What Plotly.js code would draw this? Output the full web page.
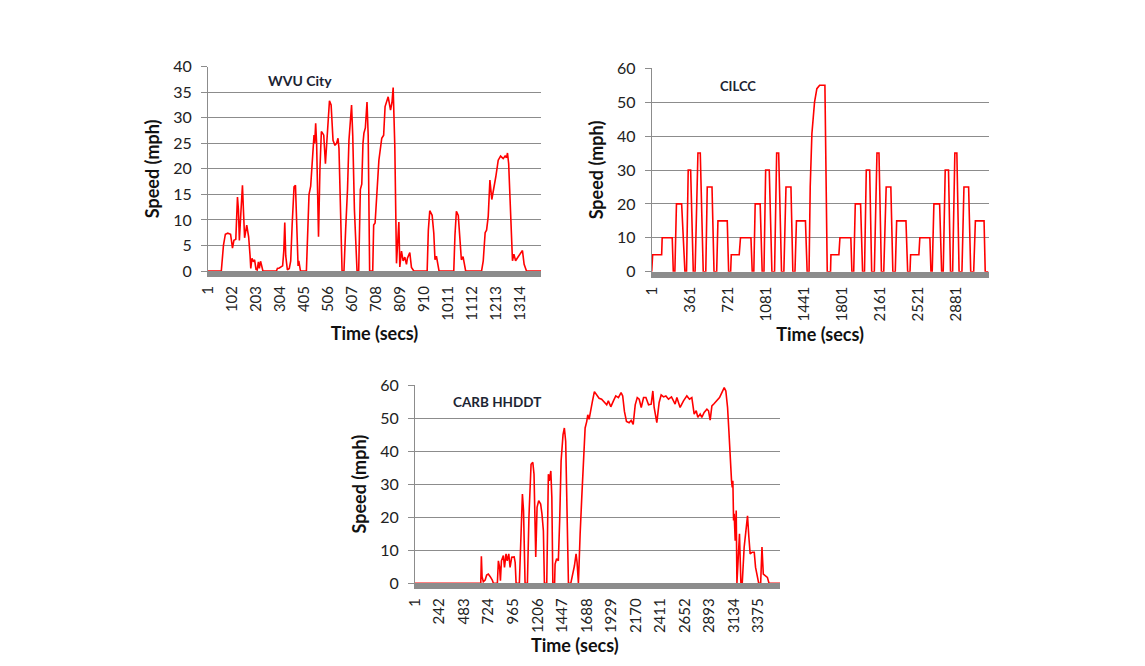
<!DOCTYPE html>
<html>
<head>
<meta charset="utf-8">
<script src="https://cdn.plot.ly/plotly-3.0.1.min.js"></script>
<style>html,body{margin:0;padding:0;background:#fff;}#chart{width:1145px;height:666px;}</style>
</head>
<body>
<div id="chart"></div>
<script>
// ---------- WVU City ----------
const wvuTime = [1,57,66,74,84,96,104,110,118,125,129,133,140,146,150,155,164,168,172,178,181,186,192,197,203,208,213,217,222,226,232,
  289,293,301,315,320,324,328,335,343,349,355,363,369,374,380,383,390,415,421,426,433,438,443,447,450,454,458,462,466,472,478,483,488,495,
  501,505,512,519,524,527,535,542,548,552,565,573,580,588,594,601,605,610,617,628,635,642,648,653,657,663,670,675,681,694,698,704,712,720,
  732,740,746,759,769,775,780,787,794,799,804,808,815,822,829,836,840,850,857,867,923,928,934,944,951,956,962,973,1035,1040,1046,1054,1060,
  1067,1074,1085,1152,1159,1167,1173,1180,1187,1195,1203,1212,1222,1232,1243,1251,1257,1261,1266,1275,1282,1288,1295,1306,1316,1324,1331,1341,1402];
const wvuSpeed = [0,0,5,7.2,7.4,7.2,4.5,6,6.2,14.5,12,6,12,16.8,12,6.5,9,8,6.7,3,0.5,2.5,1.8,2.2,0.3,0.2,1.8,0.5,1.9,1.2,0,
  0,0.5,0.6,1,4,9.5,3,0.2,0.5,2,9,16.5,16.8,10,1,2,0,0,8,15,16.6,20,24.6,26.6,25,28.9,25,15,6.7,20,27.3,27,26.6,21,
  25,27,33.3,32.5,28,25.6,24.6,25,26,24,0,0,8,16,25.6,30,32.5,26.5,12,0,0,16,17,25,27,28,33.1,26.5,0,0,9,9.4,16.8,21.7,
  26,26.6,32.2,34.1,31.5,33,35.9,24.3,1.5,5,9.6,0.8,3.9,2,2.7,1.3,2.5,3.6,0.7,0,0,8,11.8,10.9,7.4,2.2,2.9,0,0,7,11.7,10.9,7,
  2.2,2.8,0,0,2,7.5,8,10.7,17.8,14,15.9,18.5,21.7,22.5,22,22.5,22.2,23.1,21,11.9,2,3.3,2,2.8,3.5,4,1.3,0,0];
const wvuTicks = [1,102,203,304,405,506,607,708,809,910,1011,1112,1213,1314];

// ---------- CILCC ----------
const cilccTime = [1,10,95,100,195,205,220,235,284,315,330,346,369,394,411,438,460,488,512,526,571,590,615,627,715,728,
  747,753,828,840,939,951,966,979,1026,1045,1062,1078,1112,1137,1162,1182,1201,1228,1250,1270,1317,1335,1355,1369,1454,1470,
  1488,1499,1515,1540,1562,1588,1638,1660,1691,1695,1770,1780,1883,1893,1910,1925,1975,1994,2012,2029,2061,2080,2105,2130,2149,2172,
  2194,2217,2261,2280,2303,2316,2404,2420,2442,2448,2526,2535,2630,2640,2652,2668,2722,2741,2756,2775,2806,2825,2845,2866,2885,2906,
  2933,2952,2996,3016,3044,3060,3142,3153,3184];
const cilccSpeed = [0,5,5,10,10,0,0,20,20,0,0,30,30,0,0,35,35,0,0,25,25,0,0,15,15,0,
  0,5,5,10,10,0,0,20,20,0,0,30,30,0,0,35,35,0,0,25,25,0,0,15,15,0,
  0,25,40.7,50,54,55,55,0,0,5,5,10,10,0,0,20,20,0,0,30,30,0,0,35,35,0,
  0,25,25,0,0,15,15,0,0,5,5,10,10,0,0,20,20,0,0,30,30,0,0,35,35,0,
  0,25,25,0,0,15,15,0,0];
const cilccTicks = [1,361,721,1081,1441,1801,2161,2521,2881];

// ---------- CARB HHDDT ----------
const carbTime = [1,647,653,660,672,690,705,721,740,760,771,810,820,832,840,850,869,880,895,907,922,935,951,975,985,994,1026,1040,1056,1067,1082,
  1105,1120,1141,1158,1170,1180,1187,1200,1216,1235,1248,1262,1272,1295,1311,1320,1335,1345,1355,1372,1377,1392,1409,1422,1436,1455,1468,1481,1495,1508,
  1531,1550,1567,1583,1593,1606,1613,1623,1639,1655,1672,1688,1698,1711,1727,1743,1763,1786,1809,1834,1861,1884,1900,1924,1950,1973,1999,2025,2041,
  2058,2078,2104,2124,2144,2164,2184,2203,2223,2246,2269,2295,2321,2337,2350,2376,2399,2419,2442,2465,2491,2520,2540,2556,2573,2605,2638,2671,2697,
  2720,2743,2763,2779,2802,2818,2841,2868,2884,2900,2917,2940,2966,2992,3015,3038,3054,3071,3084,3097,3110,3117,3123,3130,3136,3146,3156,3163,3176,
  3188,3202,3215,3234,3247,3267,3280,3293,3313,3333,3346,3377,3396,3409,3422,3436,3462,3478,3586];
const carbSpeed = [0,0,8.2,2,0.5,1,2.5,2.8,2,1,0,0,6.8,4.8,0.8,6.8,8.4,4.8,8.9,6.8,8.9,4.8,7.9,8,6.3,0,0,12,27,22,0,
  0,20,36,36.6,33,20,8,23,25,24,21,15.9,0,0,33,31,34,26,0,0,5.8,7.4,6.8,19,37,45,47,43,21,0,
  0,2.8,5.3,8.9,6.3,0,8.9,15,26,38,47,49,51,49.6,53,55,58,57,56,55.7,54.7,54,55.2,53.4,55.2,56.7,56.2,57.7,56.7,
  52,49,48.6,49.3,48.1,54,56.2,55.7,53.2,56.2,56.2,54,54.2,58.2,53.2,48.6,54.7,57,56.4,56.7,55.7,56.4,55.2,54.2,56.2,53.2,55.2,56.7,55.7,
  56.2,51.2,52.2,50.2,51.2,50.2,51.7,52.7,52.2,49.4,53.7,54.4,55.2,56.2,57.7,59.2,58.2,53.2,46.1,37,31,29,31,19,21,12.9,22,0,8.9,
  15,0,0,10.9,15,20.4,14,8.9,9.4,9.4,4.8,0,0,11,2.8,2.5,1.8,0,0];
const carbTicks = [1,242,483,724,965,1206,1447,1688,1929,2170,2411,2652,2893,3134,3375];

// ---------- styling ----------
const FONT = 'Lato, "Open Sans", sans-serif';
const GRID = '#8c8c8c';
const RED = '#ff0000';
const W = 1145, H = 666;
const px = v => v / W;
const py = v => 1 - v / H;

function xAxis(dom, rng, ticks, title, anchor) {
  const ax = {
    domain: dom, range: rng, anchor: anchor,
    tickmode: 'array', tickvals: ticks, ticktext: ticks.map(String),
    tickangle: -90, ticks: '', showgrid: false, zeroline: false,
    showline: true, linecolor: '#8c8c8c', linewidth: 6,
    tickfont: {family: FONT, size: 15, color: '#222'},
    ticklabelstandoff: 3, fixedrange: true
  };
  if (title) ax.title = {text: title, font: {family: FONT, size: 18, color: '#111', weight: 'bold'}, standoff: 10};
  return ax;
}
function yAxis(dom, rng, dt, anchor) {
  return {
    domain: dom, range: rng, dtick: dt, anchor: anchor,
    ticks: 'outside', ticklen: 6, tickcolor: GRID, tickwidth: 1,
    showgrid: true, gridcolor: GRID, gridwidth: 1, zeroline: false,
    showline: true, linecolor: GRID, linewidth: 1,
    tickfont: {family: FONT, size: 16, color: '#222'},
    ticklabelstandoff: 6, fixedrange: true,
    title: {text: 'Speed (mph)', font: {family: FONT, size: 18, color: '#111', weight: 'bold'}, standoff: 8}
  };
}

const data = [
  {type: 'scatter', mode: 'lines', x: wvuTime, y: wvuSpeed, xaxis: 'x', yaxis: 'y', line: {color: RED, width: 1.6}, hoverinfo: 'skip'},
  {type: 'scatter', mode: 'lines', x: cilccTime, y: cilccSpeed, xaxis: 'x2', yaxis: 'y2', line: {color: RED, width: 1.6}, hoverinfo: 'skip'},
  {type: 'scatter', mode: 'lines', x: carbTime, y: carbSpeed, xaxis: 'x3', yaxis: 'y3', line: {color: RED, width: 1.6}, hoverinfo: 'skip'}
];

const layout = {
  width: W, height: H,
  margin: {l: 0, r: 0, t: 0, b: 0},
  paper_bgcolor: '#fff', plot_bgcolor: '#fff',
  showlegend: false,
  xaxis: xAxis([px(208), px(541)], [1, 1402], wvuTicks, 'Time (secs)', 'y'),
  yaxis: yAxis([py(271), py(66.7)], [0, 40], 5, 'x'),
  xaxis2: xAxis([px(651.7), px(988.5)], [1, 3184], cilccTicks, 'Time (secs)', 'y2'),
  yaxis2: yAxis([py(271.7), py(68.3)], [0, 60], 10, 'x2'),
  xaxis3: xAxis([px(415), px(780)], [1, 3586], carbTicks, null, 'y3'),
  yaxis3: yAxis([py(583.3), py(385)], [0, 60], 10, 'x3'),
  annotations: [
    {text: 'WVU City', xref: 'paper', yref: 'paper', x: px(300), y: py(81), showarrow: false, xanchor: 'center', yanchor: 'middle',
     font: {family: FONT, size: 14, color: '#1c2433', weight: 'bold'}},
    {text: 'CILCC', xref: 'paper', yref: 'paper', x: px(738), y: py(86), showarrow: false, xanchor: 'center', yanchor: 'middle',
     font: {family: FONT, size: 13, color: '#1c2433', weight: 'bold'}},
    {text: 'CARB HHDDT', xref: 'paper', yref: 'paper', x: px(497), y: py(401.5), showarrow: false, xanchor: 'center', yanchor: 'middle',
     font: {family: FONT, size: 13.5, color: '#1c2433', weight: 'bold'}},
    {text: 'Time (secs)', xref: 'paper', yref: 'paper', x: px(575), y: py(645), showarrow: false, xanchor: 'center', yanchor: 'middle',
     font: {family: FONT, size: 18, color: '#111', weight: 'bold'}}
  ]
};

Plotly.newPlot('chart', data, layout, {displayModeBar: false, staticPlot: true});
</script>
</body>
</html>
